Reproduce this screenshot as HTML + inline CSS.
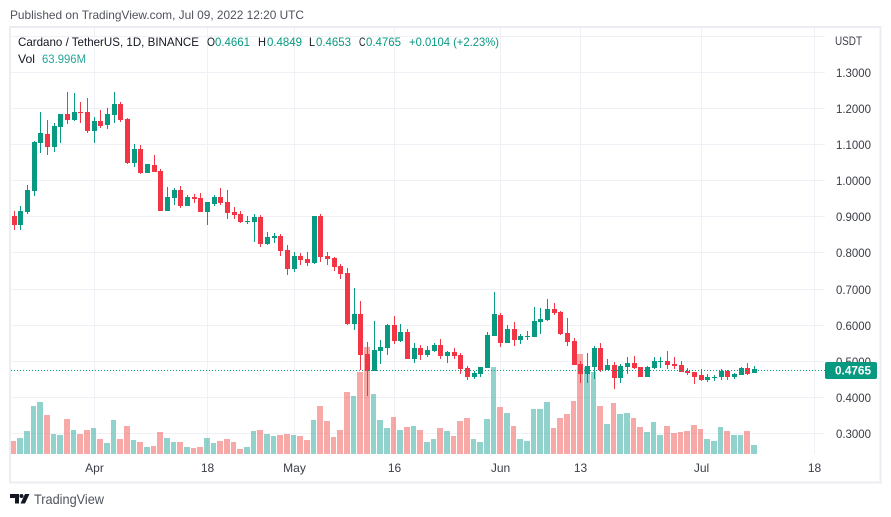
<!DOCTYPE html>
<html lang="en">
<head>
<meta charset="utf-8">
<title>Cardano / TetherUS chart</title>
<style>
html,body{margin:0;padding:0;background:#fff;}
body{width:891px;height:517px;overflow:hidden;position:relative;font-family:"Liberation Sans",sans-serif;}
svg{position:absolute;left:0;top:0;display:block;}
text{font-family:"Liberation Sans",sans-serif;font-size:12px;}
</style>
</head>
<body>
<svg id="chart" width="891" height="517" viewBox="0 0 891 517" xmlns="http://www.w3.org/2000/svg">
  <text x="10" y="19" fill="#50535e" textLength="294" lengthAdjust="spacingAndGlyphs">Published on TradingView.com, Jul 09, 2022 12:20 UTC</text>
  <rect x="10" y="27" width="870.5" height="455.5" fill="#fff" stroke="#ecedf3" stroke-width="2"/>
  <g id="grid"></g>
  <g id="volumes"></g>
  <g id="candles"></g>
  <g id="yaxis"></g>
  <g id="xaxis"></g>
  <line id="priceLine" x1="11" x2="825" stroke="#089981" stroke-width="1" stroke-dasharray="1 2"/>
  <g>
    <rect id="priceBox" x="825" width="52" height="17" rx="2" fill="#089981"/>
    <text id="priceText" x="835" fill="#fff" font-weight="bold" textLength="36" lengthAdjust="spacingAndGlyphs">0.4765</text>
  </g>
  <g>
    <text x="18" y="46" fill="#131722" textLength="181" lengthAdjust="spacingAndGlyphs">Cardano / TetherUS, 1D, BINANCE</text>
    <text x="207" y="46" fill="#131722" textLength="8" lengthAdjust="spacingAndGlyphs">O</text>
    <text x="215" y="46" fill="#089981" textLength="35" lengthAdjust="spacingAndGlyphs">0.4661</text>
    <text x="258" y="46" fill="#131722" textLength="8" lengthAdjust="spacingAndGlyphs">H</text>
    <text x="267" y="46" fill="#089981" textLength="35" lengthAdjust="spacingAndGlyphs">0.4849</text>
    <text x="309" y="46" fill="#131722" textLength="6" lengthAdjust="spacingAndGlyphs">L</text>
    <text x="316" y="46" fill="#089981" textLength="35" lengthAdjust="spacingAndGlyphs">0.4653</text>
    <text x="359" y="46" fill="#131722" textLength="6.5" lengthAdjust="spacingAndGlyphs">C</text>
    <text x="366" y="46" fill="#089981" textLength="35" lengthAdjust="spacingAndGlyphs">0.4765</text>
    <text x="409" y="46" fill="#089981" textLength="90" lengthAdjust="spacingAndGlyphs">+0.0104 (+2.23%)</text>
    <text x="18" y="63" fill="#131722" textLength="17" lengthAdjust="spacingAndGlyphs">Vol</text>
    <text x="42" y="63" fill="#26a69a" textLength="44" lengthAdjust="spacingAndGlyphs">63.996M</text>
  </g>
  <g>
    <path fill="#131722" d="M10 494h9v9.5h-4v-5.5h-5z"/>
    <circle cx="21.5" cy="496" r="2" fill="#131722"/>
    <path fill="#131722" d="M25 494h4.5l-4.5 9.5h-4.5z"/>
    <text x="34" y="504" fill="#50535e" style="font-size:14px" textLength="70" lengthAdjust="spacingAndGlyphs">TradingView</text>
  </g>
</svg>
<script>
var opens=[.901,.876,.912,.971,1.104,1.129,1.093,1.148,1.184,1.168,1.19,1.19,1.137,1.165,1.154,1.182,1.212,1.17,1.048,1.087,1.021,1.043,1.026,.915,.951,.973,.929,.954,.952,.913,.935,.955,.941,.913,.907,.885,.885,.899,.824,.84,.846,.807,.754,.79,.782,.771,.902,.79,.785,.763,.743,.601,.629,.518,.47,.526,.534,.598,.554,.579,.504,.534,.515,.526,.543,.512,.523,.515,.479,.454,.462,.479,.568,.626,.548,.587,.556,.565,.565,.606,.612,.643,.634,.576,.554,.49,.462,.481,.534,.473,.487,.451,.481,.493,.481,.456,.479,.495,.498,.49,.487,.47,.468,.459,.445,.454,.454,.47,.454,.459,.479,.4661];
var highs=[.915,.929,.987,1.109,1.19,1.168,1.159,1.184,1.245,1.243,1.218,1.229,1.176,1.195,1.201,1.245,1.218,1.173,1.101,1.098,1.046,1.071,1.032,.982,.979,.985,.96,.962,.966,.941,.96,.98,.974,.927,.916,.902,.907,.904,.857,.854,.852,.821,.801,.799,.801,.902,.907,.801,.788,.768,.757,.701,.665,.551,.609,.556,.601,.623,.601,.587,.548,.543,.54,.548,.559,.526,.534,.52,.484,.47,.481,.579,.69,.631,.598,.606,.573,.581,.648,.645,.67,.659,.637,.617,.562,.498,.52,.54,.548,.504,.495,.49,.509,.512,.481,.484,.509,.509,.526,.509,.498,.479,.468,.476,.462,.459,.476,.473,.465,.481,.493,.4849];
var lows=[.862,.862,.907,.957,1.076,1.071,1.079,1.104,1.157,1.165,1.159,1.132,1.104,1.145,1.143,1.159,1.162,1.046,1.037,1.018,1.021,1.023,.915,.915,.932,.924,.929,.937,.913,.877,.93,.932,.893,.893,.882,.879,.829,.815,.821,.827,.79,.737,.746,.765,.763,.768,.774,.765,.749,.726,.598,.584,.473,.401,.47,.49,.515,.545,.551,.504,.493,.501,.509,.523,.504,.493,.504,.462,.445,.448,.456,.479,.568,.537,.548,.54,.545,.556,.565,.573,.609,.626,.57,.54,.487,.437,.437,.448,.468,.473,.42,.437,.462,.476,.456,.456,.476,.479,.476,.476,.468,.459,.434,.443,.44,.443,.445,.445,.448,.459,.459,.4653];
var closes=[.876,.915,.973,1.107,1.132,1.093,1.151,1.184,1.168,1.19,1.187,1.137,1.165,1.151,1.184,1.212,1.168,1.048,1.087,1.021,1.046,1.023,.915,.954,.973,.929,.954,.948,.913,.941,.955,.938,.91,.904,.885,.888,.899,.824,.843,.846,.804,.754,.79,.779,.771,.902,.788,.782,.76,.74,.601,.629,.515,.47,.529,.537,.598,.554,.579,.504,.534,.515,.529,.543,.512,.523,.512,.476,.454,.465,.481,.57,.629,.548,.587,.556,.568,.568,.609,.615,.643,.631,.573,.551,.487,.462,.484,.534,.473,.487,.451,.484,.493,.479,.456,.481,.498,.498,.487,.484,.468,.465,.456,.445,.456,.456,.47,.454,.462,.479,.462,.4765];
var volumes=[92,114,164,341,370,277,142,135,249,171,142,171,185,107,78,242,107,199,100,85,50,57,156,114,85,85,50,43,50,114,78,92,107,85,36,50,164,171,142,128,135,142,135,128,100,242,341,235,121,171,441,412,583,761,427,242,185,263,171,192,199,171,85,107,185,164,128,235,256,107,85,249,619,334,292,199,107,92,320,320,370,185,256,284,377,711,619,583,341,213,363,284,292,256,192,156,228,135,199,149,156,164,206,178,107,92,192,164,135,135,164,64];
var priceTicks=["1.3000","1.2000","1.1000","1.0000","0.9000","0.8000","0.7000","0.6000","0.5000","0.4000","0.3000"];
var gridOnlyTicks=["1.4000"];
var timeTicks=["Apr","18","May","16","Jun","13","Jul","18"];
var timeTickIndexes=[12,29,42,57,73,85,103,120];
var lastPrice=0.4765;

var NS='http://www.w3.org/2000/svg';
function yPrice(p){return 108.3+(1.2-p)*360.5;}
function xIndex(i){return Math.floor(14.2+6.668*i);}
function yVol(v){return 454-v/7.11;}
var gridG=document.getElementById('grid');
var volG=document.getElementById('volumes');
var candleG=document.getElementById('candles');
var yG=document.getElementById('yaxis');
var xG=document.getElementById('xaxis');
function make(tag,attrs,parent){
  var e=document.createElementNS(NS,tag);
  for(var k in attrs){e.setAttribute(k,attrs[k]);}
  parent.appendChild(e);
  return e;
}
function hLine(value){
  var y=Math.round(yPrice(value))+0.5;
  var g=make('line',{x1:11,x2:825,y1:y,y2:y,stroke:'#f0f1f6','stroke-width':1},gridG);
  
  
}
gridOnlyTicks.forEach(function(t){hLine(parseFloat(t));});
priceTicks.forEach(function(t){
  var v=parseFloat(t);
  hLine(v);
  var label=make('text',{x:836,y:Math.round(yPrice(v))+5,fill:'#3a3d47',textLength:35,lengthAdjust:'spacingAndGlyphs'},yG);
  
  
  label.textContent=t;
});
var unit=make('text',{x:835,y:45,fill:'#3a3d47',textLength:27,lengthAdjust:'spacingAndGlyphs'},yG);


unit.textContent='USDT';
timeTicks.forEach(function(t,k){
  var x=xIndex(timeTickIndexes[k])+0.5;
  var line=make('line',{x1:x,x2:x,y1:28,y2:454,stroke:'#f0f1f6','stroke-width':1},gridG);
  
  
  var label=make('text',{x:x,y:472,fill:'#3a3d47','text-anchor':'middle'},xG);
  
  
  label.textContent=t;
});
volumes.forEach(function(v,i){
  var left=xIndex(i)-3;
  var next=xIndex(i+1)-3;
  var top=Math.round(yVol(v));
  var up=closes[i]>=opens[i];
  var bar=make('rect',{x:left,y:top,width:next-left-1,height:Math.max(1,454-top),fill:up?'#26a69a':'#ef5350','fill-opacity':0.5,'shape-rendering':'crispEdges'},volG);
  
  
});
opens.forEach(function(o,i){
  var c=closes[i];
  var up=c>=o;
  var col=up?'#089981':'#f23645';
  var x=xIndex(i);
  var g=make('g',{},candleG);
  
  
  var yh=Math.round(yPrice(highs[i]));
  var yl=Math.round(yPrice(lows[i]));
  var wick=make('rect',{x:x,y:yh,width:1,height:Math.max(1,yl-yh),fill:col,'shape-rendering':'crispEdges'},g);
  
  
  var yt=Math.round(yPrice(Math.max(o,c)));
  var yb=Math.round(yPrice(Math.min(o,c)));
  var body=make('rect',{x:x-2,y:yt,width:5,height:Math.max(1,yb-yt),fill:col,'shape-rendering':'crispEdges'},g);
  
  
});
var ly=Math.round(yPrice(lastPrice))+1.5;
var pl=document.getElementById('priceLine');
pl.setAttribute('y1',ly);
pl.setAttribute('y2',ly);
document.getElementById('priceBox').setAttribute('y',ly-8.5);
document.getElementById('priceText').setAttribute('y',ly+4);
</script>
</body>
</html>
